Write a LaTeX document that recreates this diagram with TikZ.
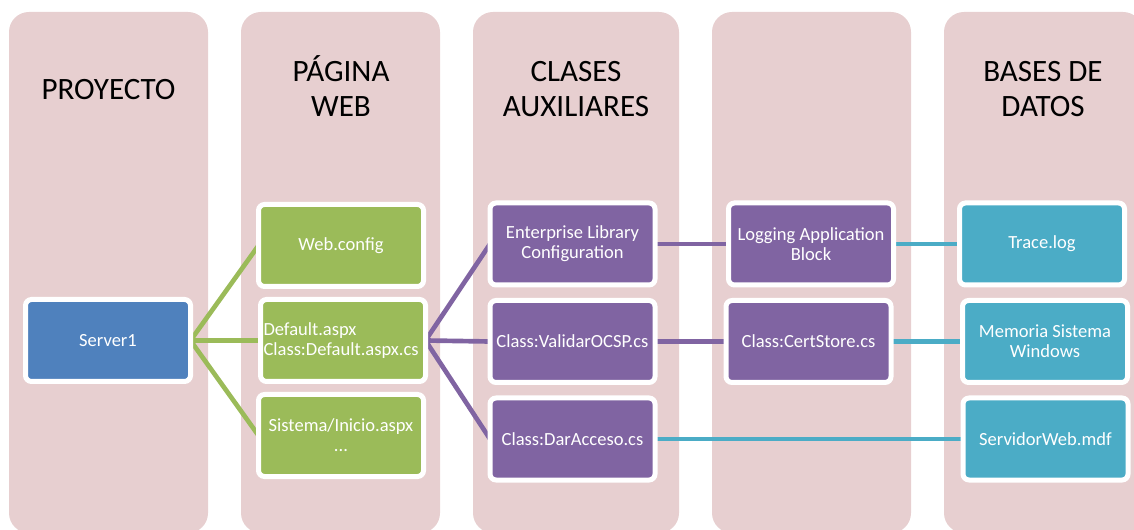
\documentclass[tikz,border=0pt]{standalone}
\usepackage{fontspec}
\setmainfont{Carlito}
\usetikzlibrary{positioning}

\definecolor{colfill}{HTML}{E7CFD0}
\definecolor{blueacc}{HTML}{4F81BD}
\definecolor{greenacc}{HTML}{9BBB59}
\definecolor{purpleacc}{HTML}{8064A2}
\definecolor{aquaacc}{HTML}{4BACC6}

\pgfdeclarelayer{cols}
\pgfdeclarelayer{edges}
\pgfsetlayers{cols,edges,main}

\tikzset{
  column/.style={fill=colfill, draw=none, rounded corners=15pt},
  title/.style={anchor=base, inner sep=0pt, font=\fontsize{23.3}{26}\selectfont},
  box/.style={draw=white, line width=3.75pt, rounded corners=4.5pt,
    minimum width=123.75pt, minimum height=61.5pt, inner sep=2pt, outer sep=0pt,
    text=white, align=center, font=\fontsize{13.9}{15}\selectfont},
  bluebox/.style={box, fill=blueacc},
  greenbox/.style={box, fill=greenacc},
  purplebox/.style={box, fill=purpleacc},
  aquabox/.style={box, fill=aquaacc},
  link/.style={line width=3.5pt},
  greenlink/.style={link, draw=greenacc},
  purplelink/.style={link, draw=purpleacc},
  aqualink/.style={link, draw=aquaacc},
}

\begin{document}
\begin{tikzpicture}[x=0.75pt, y=-0.75pt]
  \useasboundingbox (0,0) rectangle (1134,530);
  \clip (0,0) rectangle (1134,530);

  % five background columns
  \begin{pgfonlayer}{cols}
    \path[column] (9,12)   rectangle (208,533);
    \path[column] (241,12) rectangle (440,533);
    \path[column] (473,12) rectangle (679,533);
    \path[column] (712,12) rectangle (911,533);
    \path[column] (944,12) rectangle (1143,533);
  \end{pgfonlayer}

  % column headings
  \node[title] (h1)  at (108.5,100) {PROYECTO};
  \node[title] (h2a) at (341,82)    {PÁGINA};
  \node[title] (h2b) at (341,117)   {WEB};
  \node[title] (h3a) at (576,82)    {CLASES};
  \node[title] (h3b) at (576,117)   {AUXILIARES};
  \node[title] (h5a) at (1043,82)   {BASES DE};
  \node[title] (h5b) at (1043,117)  {DATOS};

  % project
  \node[bluebox] (server) at (108,340.5) {Server1};

  % web page files
  \node[greenbox] (webcfg)  at (341,245.5) {Web.config};
  \node[greenbox, align=left, text width=119.25pt, inner xsep=2.25pt] (default) at (343,340.5)
    {Default.aspx\\Class:Default.aspx.cs};
  \node[greenbox] (sistema) at (341,435.5) {Sistema/Inicio.aspx\\...};

  % helper classes
  \node[purplebox] (entlib)  at (572.5,244)   {Enterprise Library\\Configuration};
  \node[purplebox] (ocsp)    at (572.5,341.5) {Class:ValidarOCSP.cs};
  \node[purplebox] (acceso)  at (572.5,439)   {Class:DarAcceso.cs};

  % second level
  \node[purplebox] (logging) at (811,244)     {Logging Application\\Block};
  \node[purplebox] (cert)    at (808.5,341.5) {Class:CertStore.cs};

  % data stores
  \node[aquabox] (trace)   at (1042,244)    {Trace.log};
  \node[aquabox] (memoria) at (1045,341.5)  {Memoria Sistema\\Windows};
  \node[aquabox] (servweb) at (1045.5,439)  {ServidorWeb.mdf};

  % connectors
  \begin{pgfonlayer}{edges}
    \draw[greenlink] (server.east) -- (webcfg.west);
    \draw[greenlink] (server.east) -- (default.west);
    \draw[greenlink] (server.east) -- (sistema.west);

    \draw[purplelink] (default.east) -- (entlib.west);
    \draw[purplelink] (default.east) -- (ocsp.west);
    \draw[purplelink] (default.east) -- (acceso.west);

    \draw[purplelink] (entlib.east) -- (logging.west);
    \draw[purplelink] (ocsp.east) -- (cert.west);

    \draw[aqualink] (logging.east) -- (trace.west);
    \draw[aqualink] (cert.east) -- (memoria.west);
    \draw[aqualink] (acceso.east) -- (servweb.west);
  \end{pgfonlayer}
\end{tikzpicture}
\end{document}
